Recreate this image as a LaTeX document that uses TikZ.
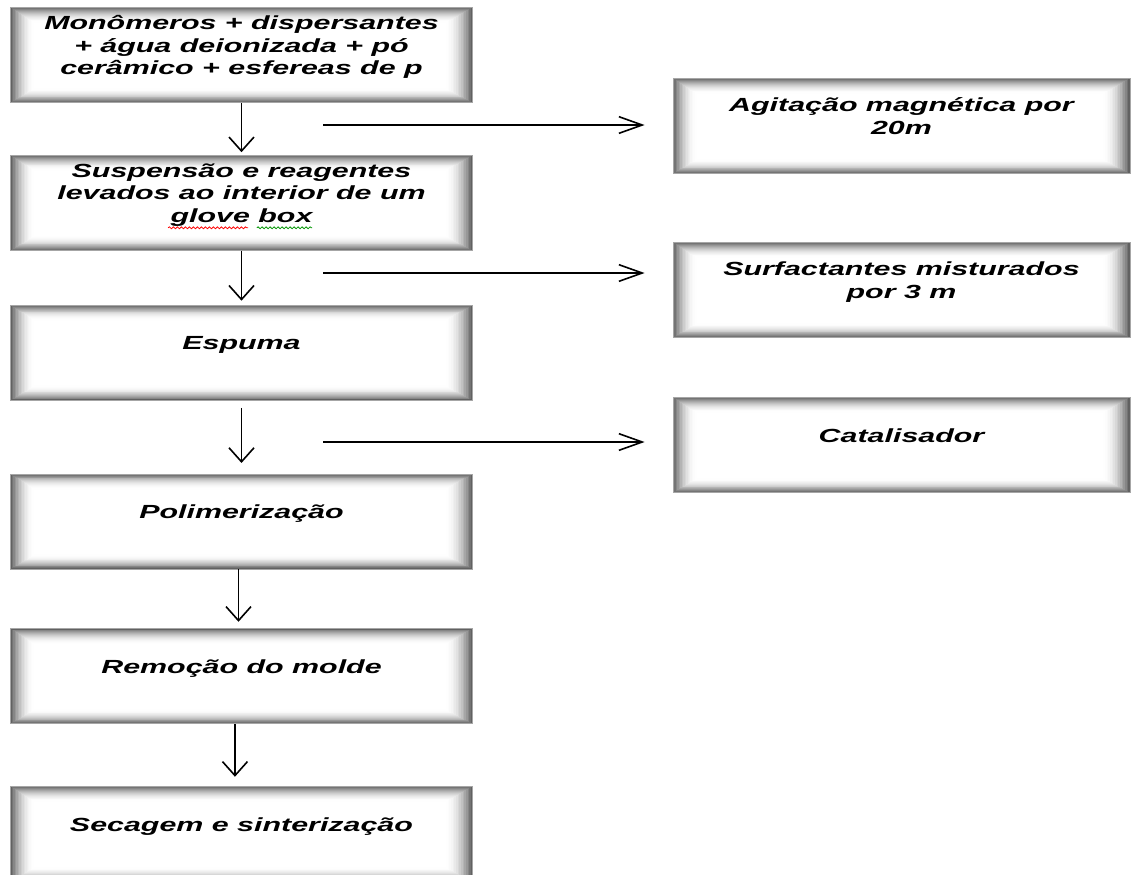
\documentclass[tikz,border=0pt]{standalone}
\usepackage{fontspec}
\usepackage{xcolor}
\usepackage{tikz}
\usetikzlibrary{arrows.meta, positioning, decorations.pathmorphing}
\newfontfamily\boxfamily{Liberation Sans}[FakeStretch=1.6]
\newcommand\boxfont{\boxfamily\bfseries\itshape\fontsize{14.25pt}{16.9pt}\selectfont}
\definecolor{wavegreen}{RGB}{0,150,0}
\tikzset{
    stepblock/.style={
        rectangle,
        draw=black!35,
        line width=0.6pt,
        fill=white,
        inner sep=0pt,
        align=center,
        font=\boxfont,
        text height=10.5pt,
        text depth=15pt,
        minimum width=346.5pt,
        minimum height=71.25pt,
        path picture={
            \foreach \i in {0,...,15}{
                \pgfmathsetmacro{\shade}{62*(1-\i/16)^2}
                \draw[black!\shade, line width=1.4pt]
                    ([shift={(0.6pt+\i*1.1pt,0.6pt+\i*0.65pt)}]path picture bounding box.south west) rectangle
                    ([shift={(-0.6pt-\i*1.25pt,-0.6pt-\i*0.7pt)}]path picture bounding box.north east);
            }
        }
    },
    twoline/.style={text height=27.4pt},
    threeline/.style={text height=44.3pt},
    sideblock/.style={
        stepblock,
        minimum width=342.75pt
    },
    varrow/.style={
        draw=black,
        line width=1.2pt,
        -{Straight Barb[length=10.5pt, width=18.75pt]}
    },
    harrow/.style={
        draw=black,
        line width=1.2pt,
        -{Straight Barb[length=17.5pt, width=12.5pt]}
    },
    squiggle/.style={
        line width=0.6pt,
        decorate,
        decoration={snake, amplitude=0.7pt, segment length=3pt}
    }
}
\begin{document}
\begin{tikzpicture}[x=0.75pt, y=-0.75pt]
\useasboundingbox (0,0) rectangle (1133,875);

% Main sequence
\node[stepblock, threeline] (mix) at (241.5,55) {Monômeros + dispersantes\\+ água deionizada + pó\\cerâmico + esfereas de p};
\node[stepblock, threeline, below=39pt of mix] (glove) {Suspensão e reagentes\\levados ao interior de um\\glove box};
\node[stepblock, below=40.5pt of glove] (foam) {Espuma};
\node[stepblock, below=54.75pt of foam] (poly) {Polimerização};
\node[stepblock, below=44.25pt of poly] (mold) {Remoção do molde};
\node[stepblock, below=46.5pt of mold] (sinter) {Secagem e sinterização};

% Side steps
\node[sideblock, twoline] (stir) at (901.5,126) {Agitação magnética por\\20m};
\node[sideblock, twoline] (surf) at (901.5,290) {Surfactantes misturados\\por 3 m};
\node[sideblock] (cat) at (901.5,445) {Catalisador};

% Spelling marks under "glove box"
\draw[squiggle, red] ([shift={(-55pt,-18.75pt)}]glove.center) -- ([shift={(5pt,-18.75pt)}]glove.center);
\draw[squiggle, wavegreen] ([shift={(11.5pt,-18.75pt)}]glove.center) -- ([shift={(53pt,-18.75pt)}]glove.center);

% Flow
\draw[varrow, shorten >=2pt] (mix) -- (glove);
\draw[varrow, shorten >=3pt] (glove) -- (foam);
\draw[varrow, shorten <=5.6pt, shorten >=7.9pt] (foam) -- (poly);
\draw[varrow, shorten >=4.9pt] ([xshift=-2.25pt]poly.south) -- ([xshift=-2.25pt]mold.north);
\draw[varrow, shorten >=7pt] ([xshift=-4.9pt]mold.south) -- ([xshift=-4.9pt]sinter.north);

% Side arrows
\coordinate (in1) at (323,125);
\coordinate (in2) at (323,273);
\coordinate (in3) at (323,442);
\draw[harrow, shorten >=21pt] (in1) -- (in1 -| stir.west);
\draw[harrow, shorten >=21pt] (in2) -- (in2 -| surf.west);
\draw[harrow, shorten >=21pt] (in3) -- (in3 -| cat.west);

\end{tikzpicture}
\end{document}
